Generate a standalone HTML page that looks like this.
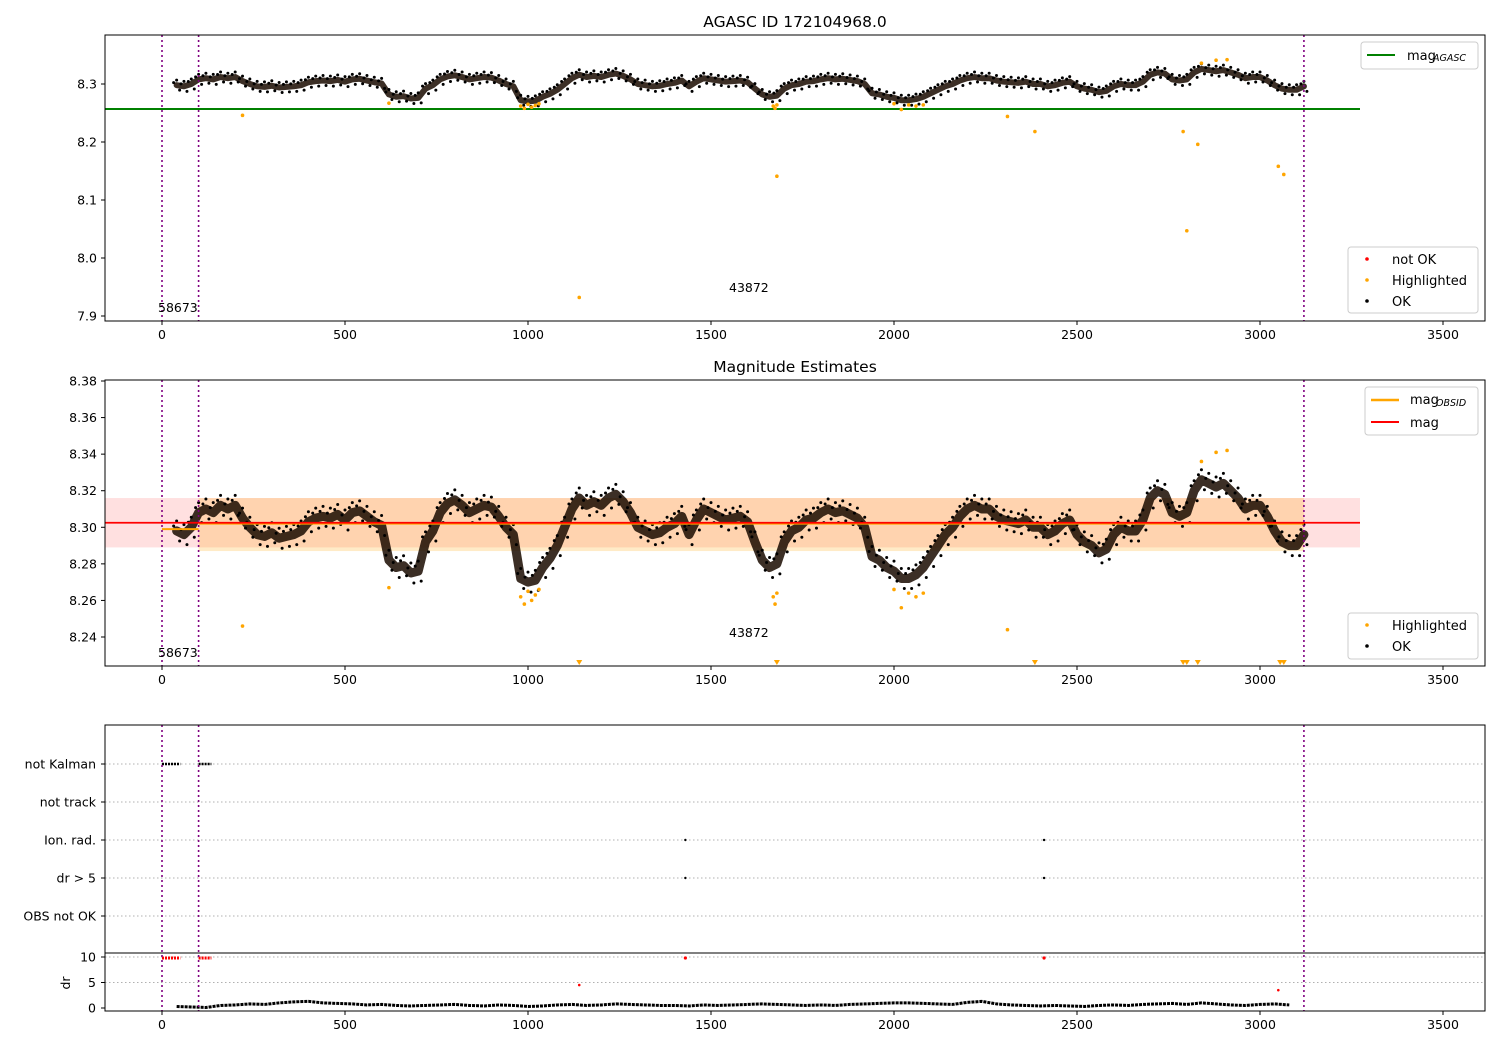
<!DOCTYPE html>
<html><head><meta charset="utf-8">
<style>
html,body{margin:0;padding:0;background:#fff;}
svg{display:block;font-family:"DejaVu Sans","Liberation Sans",sans-serif;}
</style></head>
<body>
<svg id="chart" width="1500" height="1050" viewBox="0 0 1500 1050" xmlns="http://www.w3.org/2000/svg"></svg>
<script>
// ---- data ----
const magTimes = [];
for (let t = 40; t <= 3120; t += 20) magTimes.push(t);
const magValues = [8.298,8.296,8.300,8.308,8.310,8.308,8.312,8.310,8.312,8.305,8.300,8.296,8.295,8.297,8.294,8.295,8.296,8.298,8.303,8.305,8.306,8.305,8.307,8.304,8.308,8.309,8.306,8.303,8.301,8.282,8.278,8.279,8.275,8.276,8.292,8.298,8.308,8.313,8.315,8.312,8.308,8.310,8.312,8.311,8.306,8.300,8.296,8.272,8.270,8.271,8.278,8.283,8.290,8.300,8.310,8.316,8.312,8.314,8.312,8.316,8.318,8.314,8.308,8.300,8.298,8.296,8.297,8.300,8.302,8.306,8.296,8.304,8.310,8.308,8.306,8.304,8.305,8.306,8.303,8.292,8.282,8.278,8.280,8.292,8.298,8.300,8.304,8.305,8.308,8.310,8.308,8.309,8.307,8.305,8.300,8.284,8.282,8.278,8.276,8.272,8.272,8.274,8.278,8.284,8.290,8.296,8.300,8.306,8.310,8.312,8.310,8.310,8.306,8.304,8.303,8.302,8.304,8.300,8.300,8.296,8.298,8.302,8.304,8.296,8.292,8.290,8.286,8.288,8.296,8.300,8.298,8.298,8.304,8.316,8.320,8.318,8.308,8.306,8.308,8.320,8.326,8.324,8.322,8.324,8.320,8.316,8.310,8.312,8.312,8.306,8.298,8.292,8.290,8.290,8.296];
const hiTimes = [220,620,980,990,1000,1010,1020,1030,1140,1670,1675,1680,1680,2000,2020,2040,2060,2080,2310,2385,2790,2800,2830,2840,2880,2910,3050,3065];
const hiValues = [8.246,8.267,8.262,8.258,8.265,8.260,8.263,8.266,7.932,8.262,8.258,8.264,8.141,8.266,8.256,8.264,8.262,8.264,8.244,8.218,8.218,8.047,8.196,8.336,8.341,8.342,8.158,8.144];
const lowTimes = [1140,1680,2385,2790,2800,2830,3055,3065];
const drTimes = [];
for (let t = 40; t <= 3120; t += 40) drTimes.push(t);
const drValues = [0.3,0.2,0.1,0.5,0.6,0.8,0.7,1.0,1.2,1.3,1.0,0.9,0.8,0.6,0.7,0.5,0.4,0.5,0.6,0.7,0.5,0.4,0.6,0.5,0.3,0.4,0.6,0.7,0.5,0.6,0.8,0.7,0.6,0.5,0.5,0.4,0.6,0.5,0.6,0.7,0.8,0.7,0.6,0.5,0.6,0.5,0.7,0.8,0.9,1.0,1.0,0.9,0.8,0.7,1.1,1.3,0.8,0.6,0.5,0.4,0.5,0.4,0.3,0.5,0.6,0.5,0.7,0.8,0.9,0.7,1.0,0.8,0.6,0.5,0.7,0.8,0.6];
const drRedTimes = [1140,3050];
const drRedValues = [4.5,3.5];
const flagCats = ["not Kalman","not track","Ion. rad.","dr > 5","OBS not OK"];
const ionTimes = [1430,2410];
const xTicks = [0,500,1000,1500,2000,2500,3000,3500];
const y1Ticks = [7.9,8.0,8.1,8.2,8.3];
const y2Ticks = [8.24,8.26,8.28,8.30,8.32,8.34,8.36,8.38];
const drTicks = [0,5,10];

// ---- helpers ----
const svg = document.getElementById('chart');
const NS = 'http://www.w3.org/2000/svg';
function el(tag, attrs, parent) {
  const e = document.createElementNS(NS, tag);
  for (const k in attrs) e.setAttribute(k, attrs[k]);
  (parent || svg).appendChild(e);
  return e;
}
function txt(x, y, s, size, anchor, name, parent) {
  const t = el('text', {x: x, y: y, 'font-size': size, 'text-anchor': anchor, fill: '#000'}, parent);
  t.textContent = s;
  
  
  return t;
}
const X = t => 162 + t * 0.366;
const L = 105, R = 1485;
const Y1 = v => 84 + (8.3 - v) * 580;
const Y2 = v => 381 + (8.38 - v) * 1828.6;
const YD = v => 1008 - v * 5.1;

function frame(top, bot, name) {
  const r = el('rect', {x: L, y: top, width: R - L, height: bot - top, fill: 'none', stroke: '#000', 'stroke-width': 1});
  
  
}
function xAxis(bot, name) {
  const g = el('g', {});
  
  
  xTicks.forEach(t => {
    el('line', {x1: X(t), x2: X(t), y1: bot, y2: bot + 4, stroke: '#000'}, g);
    txt(X(t), bot + 18, String(t), 12.5, 'middle', 'x-tick-label', g);
  });
}
function vlines(top, bot) {
  [0, 100, 3120].forEach(t => {
    const l = el('line', {x1: X(t), x2: X(t), y1: top, y2: bot, stroke: '#800080', 'stroke-width': 1.6, 'stroke-dasharray': '2,3'});
    
    
  });
}
function series(Y, w, spread, clipTop, clipBot, name) {
  const g = el('g', {});
  
  
  let pts = magTimes.map((t, i) => X(t) + ',' + Y(magValues[i])).join(' ');
  el('polyline', {points: pts, fill: 'none', stroke: '#1a0a00', 'stroke-width': w, 'stroke-linejoin': 'round', 'stroke-linecap': 'round', opacity: 0.85}, g);
  magTimes.forEach((t, i) => {
    const offs = [[-spread, 0], [spread, 3], [-spread * 0.5, -3]];
    offs.forEach(o => {
      const c = el('circle', {cx: X(t) + o[1], cy: Y(magValues[i]) + o[0], r: 1.5, fill: '#000'}, g);
      
      
    });
  });
  hiTimes.forEach((t, i) => {
    const y = Y(hiValues[i]);
    if (y < clipTop || y > clipBot) return;
    const c = el('circle', {cx: X(t), cy: y, r: 1.8, fill: 'orange'}, g);
    
    
  });
}

// ---- panel 1 ----
txt(795, 27, 'AGASC ID 172104968.0', 15.5, 'middle', 'title-agasc');
y1Ticks.forEach(v => {
  el('line', {x1: L - 4, x2: L, y1: Y1(v), y2: Y1(v), stroke: '#000'});
  txt(L - 8, Y1(v) + 4.5, v.toFixed(1), 12.5, 'end', 'y1-tick-label');
});
const ag = el('line', {x1: L, x2: 1360, y1: Y1(8.257), y2: Y1(8.257), stroke: 'green', 'stroke-width': 2});


series(Y1, 6, 5, 35, 321, 'mag-series-top');
vlines(35, 321);
txt(158, 312, '58673', 12.5, 'start', 'obsid-label');
txt(729, 292, '43872', 12.5, 'start', 'obsid-label');
frame(35, 321, 'top-axes');
xAxis(321, 'x-axis-top');
// legends
let lg = el('g', {});  
el('rect', {x: 1361, y: 42, width: 117, height: 27, fill: '#fff', stroke: '#ccc', rx: 3}, lg);
el('line', {x1: 1367, x2: 1395, y1: 55, y2: 55, stroke: 'green', 'stroke-width': 2}, lg);
txt(1407, 60, 'mag', 13, 'start', 'legend-entry', lg);
let st = txt(1433, 61, 'AGASC', 9.5, 'start', 'legend-subscript', lg); st.setAttribute('font-style', 'italic');
lg = el('g', {});  
el('rect', {x: 1348, y: 247, width: 130, height: 66, fill: '#fff', stroke: '#ccc', rx: 3}, lg);
[['not OK', 'red', 259], ['Highlighted', 'orange', 280], ['OK', '#000', 301]].forEach(a => {
  el('circle', {cx: 1367, cy: a[2], r: 1.8, fill: a[1]}, lg);
  txt(1392, a[2] + 5, a[0], 13, 'start', 'legend-entry', lg);
});

// ---- panel 2 ----
txt(795, 372, 'Magnitude Estimates', 15.5, 'middle', 'title-mag-estimates');
y2Ticks.forEach(v => {
  el('line', {x1: L - 4, x2: L, y1: Y2(v), y2: Y2(v), stroke: '#000'});
  txt(L - 8, Y2(v) + 4.5, v.toFixed(2), 12.5, 'end', 'y2-tick-label');
});
let b = el('rect', {x: L, y: Y2(8.316), width: 1360 - L, height: Y2(8.289) - Y2(8.316), fill: 'rgba(255,0,0,0.12)'});
 
b = el('rect', {x: X(100), y: Y2(8.316), width: X(3120) - X(100), height: Y2(8.287) - Y2(8.316), fill: 'rgba(255,165,0,0.22)'});
 
series(Y2, 9, 10, 380, 666, 'mag-series-estimates');
let ln = el('line', {x1: X(0), x2: X(100), y1: Y2(8.299), y2: Y2(8.299), stroke: 'orange', 'stroke-width': 2});
 
ln = el('line', {x1: X(100), x2: X(3120), y1: Y2(8.302), y2: Y2(8.302), stroke: 'orange', 'stroke-width': 2});
 
ln = el('line', {x1: L, x2: 1360, y1: Y2(8.3025), y2: Y2(8.3025), stroke: 'red', 'stroke-width': 1.8});
 
lowTimes.forEach(t => {
  const p = el('polygon', {points: `${X(t)-3},660 ${X(t)+3},660 ${X(t)},665`, fill: 'orange'});
   
});
vlines(380, 666);
txt(158, 657, '58673', 12.5, 'start', 'obsid-label');
txt(729, 637, '43872', 12.5, 'start', 'obsid-label');
frame(380, 666, 'middle-axes');
xAxis(666, 'x-axis-middle');
lg = el('g', {});  
el('rect', {x: 1365, y: 387, width: 113, height: 48, fill: '#fff', stroke: '#ccc', rx: 3}, lg);
el('line', {x1: 1371, x2: 1399, y1: 400, y2: 400, stroke: 'orange', 'stroke-width': 2.5}, lg);
txt(1410, 404, 'mag', 13, 'start', 'legend-entry', lg);
st = txt(1436, 406, 'OBSID', 9.5, 'start', 'legend-subscript', lg); st.setAttribute('font-style', 'italic');
el('line', {x1: 1371, x2: 1399, y1: 422, y2: 422, stroke: 'red', 'stroke-width': 2}, lg);
txt(1410, 427, 'mag', 13, 'start', 'legend-entry', lg);
lg = el('g', {});  
el('rect', {x: 1348, y: 613, width: 130, height: 46, fill: '#fff', stroke: '#ccc', rx: 3}, lg);
[['Highlighted', 'orange', 625], ['OK', '#000', 646]].forEach(a => {
  el('circle', {cx: 1367, cy: a[2], r: 1.8, fill: a[1]}, lg);
  txt(1392, a[2] + 5, a[0], 13, 'start', 'legend-entry', lg);
});

// ---- panel 3 ----
const catY = [764, 802, 840, 878, 916];
flagCats.forEach((c, i) => {
  const gl = el('line', {x1: L, x2: R, y1: catY[i], y2: catY[i], stroke: '#b0b0b0', 'stroke-dasharray': '1.5,2.5'});
   
  el('line', {x1: L - 4, x2: L, y1: catY[i], y2: catY[i], stroke: '#000'});
  txt(L - 9, catY[i] + 4.5, c, 12.5, 'end', 'flag-label');
});
let nk = el('line', {x1: X(0), x2: X(50), y1: 764, y2: 764, stroke: '#000', 'stroke-width': 2.5, 'stroke-dasharray': '2,1'});
 
nk = el('line', {x1: X(100), x2: X(135), y1: 764, y2: 764, stroke: '#000', 'stroke-width': 2.5, 'stroke-dasharray': '2,1'});
 
ionTimes.forEach(t => {
  [840, 878].forEach(y => {
    const c = el('circle', {cx: X(t), cy: y, r: 1.2, fill: '#000'});
     
  });
});
// dr axis
[5, 10].forEach(v => {
  const gl = el('line', {x1: L, x2: R, y1: YD(v), y2: YD(v), stroke: '#b0b0b0', 'stroke-dasharray': '1.5,2.5'});
   
});
drTicks.forEach(v => {
  el('line', {x1: L - 4, x2: L, y1: YD(v), y2: YD(v), stroke: '#000'});
  txt(L - 9, YD(v) + 4.5, String(v), 12.5, 'end', 'dr-tick-label');
});
let dt = el('text', {x: 70, y: 983, 'font-size': 12.5, 'text-anchor': 'middle', transform: 'rotate(-90 70 983)'});
dt.textContent = 'dr';
 
let dl = el('polyline', {points: drTimes.map((t, i) => X(t) + ',' + YD(drValues[i])).join(' '), fill: 'none', stroke: '#000', 'stroke-width': 3, 'stroke-dasharray': '3,1'});
 
let rl = el('line', {x1: X(0), x2: X(50), y1: YD(9.8), y2: YD(9.8), stroke: 'red', 'stroke-width': 3, 'stroke-dasharray': '2,1'});
 
rl = el('line', {x1: X(100), x2: X(135), y1: YD(9.8), y2: YD(9.8), stroke: 'red', 'stroke-width': 3, 'stroke-dasharray': '2,1'});
 
ionTimes.forEach(t => {
  const c = el('circle', {cx: X(t), cy: YD(9.8), r: 1.6, fill: 'red'});
   
});
drRedTimes.forEach((t, i) => {
  const c = el('circle', {cx: X(t), cy: YD(drRedValues[i]), r: 1.3, fill: 'red'});
   
});
vlines(725, 1011);
frame(725, 1011, 'bottom-axes');
let sep = el('line', {x1: L, x2: R, y1: 953, y2: 953, stroke: '#000'});
 
xAxis(1011, 'x-axis-bottom');
</script>
</body></html>
